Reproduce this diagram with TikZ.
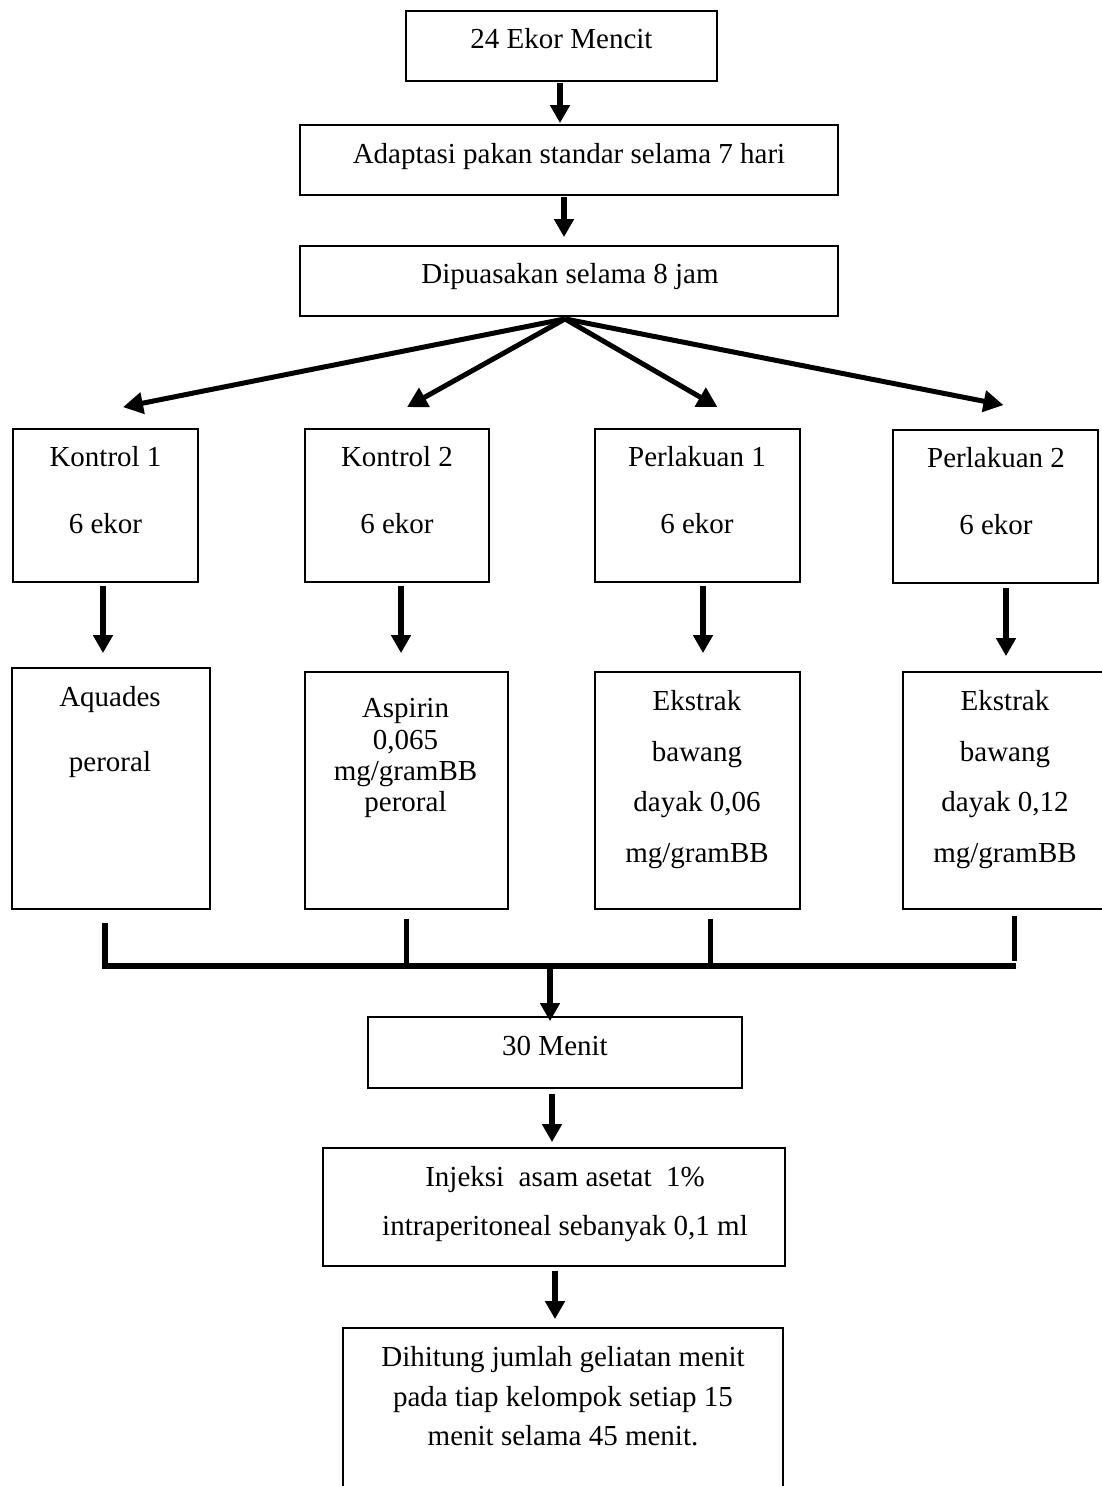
\documentclass[tikz,border=0pt]{standalone}
\usepackage{fontspec}
\setmainfont{Liberation Serif}
\usetikzlibrary{arrows.meta,calc}
\tikzset{
  box/.style={draw, line width=1.8pt, inner sep=0pt, rectangle},
  txt/.style={anchor=base, inner sep=0pt, font=\fontsize{29pt}{34pt}\selectfont},
  arr/.style={line width=6pt, -{Triangle[width=19pt,length=18pt]}},
  fanarr/.style={line width=5pt, -{Triangle[width=21pt,length=20pt]}},
  bar/.style={line width=5pt},
}
\begin{document}
\begin{tikzpicture}[x=1pt,y=-1pt]
\clip (0,0) rectangle (1102,1486);
\fill[white] (0,0) rectangle (1102,1486);

% boxes
\node[box, minimum width=311pt, minimum height=70pt] (top) at (561.5,46) {};
\node[box, minimum width=538pt, minimum height=70pt] (adapt) at (569,160) {};
\node[box, minimum width=538pt, minimum height=70pt] (puasa) at (569,281) {};
\node[box, minimum width=185pt, minimum height=153pt] (k1) at (105.5,505.5) {};
\node[box, minimum width=184pt, minimum height=153pt] (k2) at (397,505.5) {};
\node[box, minimum width=205pt, minimum height=153pt] (p1) at (697.5,505.5) {};
\node[box, minimum width=205pt, minimum height=153pt] (p2) at (995.5,506.5) {};
\node[box, minimum width=198pt, minimum height=241pt] (b1) at (111,788.5) {};
\node[box, minimum width=203pt, minimum height=237pt] (b2) at (406.5,790.5) {};
\node[box, minimum width=205pt, minimum height=237pt] (b3) at (697.5,790.5) {};
\node[box, minimum width=204pt, minimum height=237pt] (b4) at (1005,790.5) {};
\node[box, minimum width=374pt, minimum height=71pt] (menit) at (555,1052.5) {};
\node[box, minimum width=462pt, minimum height=118pt] (inj) at (554,1207) {};
\node[box, minimum width=440pt, minimum height=172pt] (hit) at (563,1414) {};

% texts
\node[txt] (t1) at (561.5,48) {24 Ekor Mencit};
\node[txt] (t2) at (569,163) {Adaptasi pakan standar selama 7 hari};
\node[txt] (t3) at (570,283) {Dipuasakan selama 8 jam};
\node[txt] (k1a) at (105.5,466) {Kontrol 1};
\node[txt] (k1b) at (105.5,533) {6 ekor};
\node[txt] (k2a) at (397,466) {Kontrol 2};
\node[txt] (k2b) at (397,533) {6 ekor};
\node[txt] (p1a) at (697,466) {Perlakuan 1};
\node[txt] (p1b) at (697,533) {6 ekor};
\node[txt] (p2a) at (996,467) {Perlakuan 2};
\node[txt] (p2b) at (996,534) {6 ekor};
\node[txt] (b1a) at (110,706) {Aquades};
\node[txt] (b1b) at (110,771) {peroral};
\node[txt] (b2a) at (405.5,717) {Aspirin};
\node[txt] (b2b) at (405.5,749) {0,065};
\node[txt] (b2c) at (405.5,780) {mg/gramBB};
\node[txt] (b2d) at (405.5,811) {peroral};
\node[txt] (b3a) at (697,710) {Ekstrak};
\node[txt] (b3b) at (697,761) {bawang};
\node[txt] (b3c) at (697,811) {dayak 0,06};
\node[txt] (b3d) at (697,862) {mg/gramBB};
\node[txt] (b4a) at (1005,710) {Ekstrak};
\node[txt] (b4b) at (1005,761) {bawang};
\node[txt] (b4c) at (1005,811) {dayak 0,12};
\node[txt] (b4d) at (1005,862) {mg/gramBB};
\node[txt] (t30) at (555,1055) {30 Menit};
\node[txt] (ia) at (565,1186) {Injeksi~ asam asetat~ 1\%};
\node[txt] (ib) at (565,1235) {intraperitoneal sebanyak 0,1 ml};
\node[txt] (ha) at (563,1366) {Dihitung jumlah geliatan menit};
\node[txt] (hb) at (563,1406) {pada tiap kelompok setiap 15};
\node[txt] (hc) at (563,1445) {menit selama 45 menit.};

% top arrows
\draw[arr] ($(top.south)+(-1.5,1)$) -- ($(adapt.north)+(-9,-1)$);
\draw[arr] ($(adapt.south)+(-5,1)$) -- ($(puasa.north)+(-5,-8)$);

% fan
\coordinate (fan) at ($(puasa.south)+(-4,2)$);
\draw[fanarr] (fan) -- ($(k1.north)+(17.5,-21)$);
\draw[fanarr] (fan) -- ($(k2.north)+(10,-21)$);
\draw[fanarr] (fan) -- ($(p1.north)+(20,-21)$);
\draw[fanarr] (fan) -- ($(p2.north)+(8,-24)$);

% down arrows
\draw[arr] ($(k1.south)+(-2.5,3)$) -- ($(b1.north)+(-8,-14)$);
\draw[arr] ($(k2.south)+(4,3)$) -- ($(b2.north)+(-5.5,-18)$);
\draw[arr] ($(p1.south)+(5.5,3)$) -- ($(b3.north)+(5.5,-18)$);
\draw[arr] ($(p2.south)+(10.5,4)$) -- ($(b4.north)+(1,-15)$);

% merge
\coordinate (m1) at (105,966);
\coordinate (m2) at (406,966);
\coordinate (m3) at (710,966);
\coordinate (m4) at (1016,966);
\coordinate (r4) at (1014,961);
\draw[line width=6pt] ($(b1.south)+(-6,13)$) -- (m1) -- (m4);
\draw[bar] ($(b2.south)+(-0.5,9)$) -- (m2);
\draw[bar] ($(b3.south)+(12.5,9)$) -- (m3);
\draw[bar] ($(b4.south)+(9,6)$) -- (r4);
\coordinate (jn) at (550,969);
\draw[arr] (jn) -- ($(menit.north)+(-5,5)$);

% lower arrows
\draw[arr] ($(menit.south)+(-3,5)$) -- ($(inj.north)+(-2,-5)$);
\draw[arr] ($(inj.south)+(1,4)$) -- ($(hit.north)+(-8,-8)$);
\end{tikzpicture}
\end{document}
